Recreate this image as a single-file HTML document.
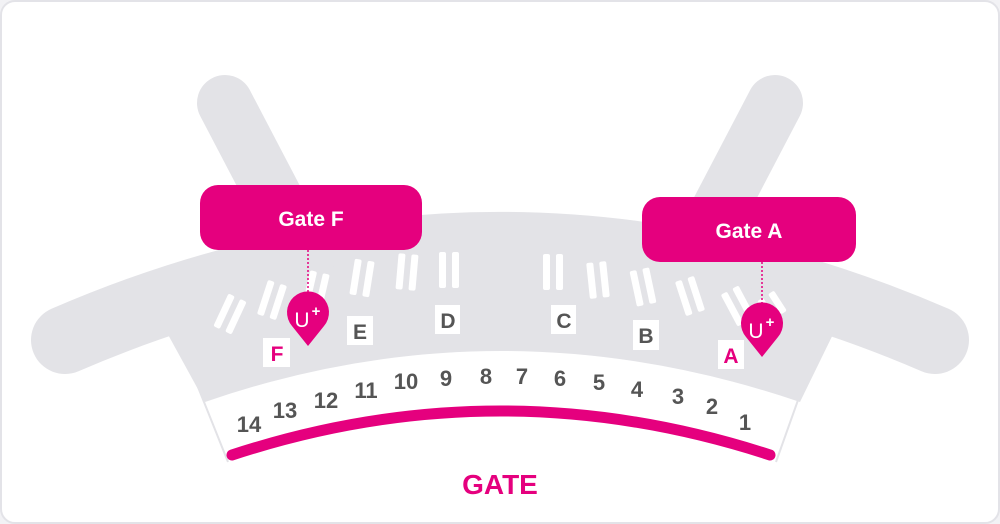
<!DOCTYPE html>
<html><head><meta charset="utf-8"><style>
html,body{margin:0;padding:0;background:#f2f2f5;}
svg{display:block;}
text{font-family:"Liberation Sans",sans-serif;font-weight:bold;}
</style></head><body>
<svg width="1000" height="524" viewBox="0 0 1000 524" xmlns="http://www.w3.org/2000/svg">
<rect x="1" y="1" width="998" height="522" rx="14" fill="#fff" stroke="#e3e3e8" stroke-width="2"/>
<g stroke="#e3e3e7" stroke-linecap="round" fill="none">
<line x1="225" y1="103" x2="315" y2="275" stroke-width="56"/>
<line x1="775" y1="103" x2="685" y2="275" stroke-width="56"/>
<path d="M65,340 Q500,152 935,340" stroke-width="68"/>
</g>
<!-- outer white trapezoid -->
<path d="M192,372 L228,462 Q500,372 776,462 L808,372 Z" fill="#fff"/>
<path d="M192,372 L228,462 M776,462 L808,372" stroke="#e3e3e7" stroke-width="2" fill="none"/>
<!-- gray bowl -->
<path d="M160,320 L205,402 Q500,300 800,402 L840,320 Q500,180 160,320 Z" fill="#e3e3e7"/>
<path d="M232,455 Q500,367 770,455" stroke="#e5007e" stroke-width="11" fill="none" stroke-linecap="round"/>
<!-- stands -->
<g fill="#fff">
<g transform="translate(230,314) rotate(25)"><rect x="-10" y="-18" width="7" height="36" rx="2"/><rect x="3" y="-18" width="7" height="36" rx="2"/></g>
<g transform="translate(272,300) rotate(18)"><rect x="-10" y="-18" width="7" height="36" rx="2"/><rect x="3" y="-18" width="7" height="36" rx="2"/></g>
<g transform="translate(316,290) rotate(13)"><rect x="-10" y="-18" width="7" height="36" rx="2"/><rect x="3" y="-18" width="7" height="36" rx="2"/></g>
<g transform="translate(362,278) rotate(9)"><rect x="-10" y="-18" width="7" height="36" rx="2"/><rect x="3" y="-18" width="7" height="36" rx="2"/></g>
<g transform="translate(407,272) rotate(5)"><rect x="-10" y="-18" width="7" height="36" rx="2"/><rect x="3" y="-18" width="7" height="36" rx="2"/></g>
<g transform="translate(449,270) rotate(0)"><rect x="-10" y="-18" width="7" height="36" rx="2"/><rect x="3" y="-18" width="7" height="36" rx="2"/></g>
<g transform="translate(553,272) rotate(0)"><rect x="-10" y="-18" width="7" height="36" rx="2"/><rect x="3" y="-18" width="7" height="36" rx="2"/></g>
<g transform="translate(598,280) rotate(-6)"><rect x="-10" y="-18" width="7" height="36" rx="2"/><rect x="3" y="-18" width="7" height="36" rx="2"/></g>
<g transform="translate(643,287) rotate(-12)"><rect x="-10" y="-18" width="7" height="36" rx="2"/><rect x="3" y="-18" width="7" height="36" rx="2"/></g>
<g transform="translate(690,296) rotate(-18)"><rect x="-10" y="-18" width="7" height="36" rx="2"/><rect x="3" y="-18" width="7" height="36" rx="2"/></g>
<g transform="translate(738,306) rotate(-28)"><rect x="-10" y="-18" width="7" height="36" rx="2"/><rect x="3" y="-18" width="7" height="36" rx="2"/></g>
<g transform="translate(772,306) rotate(-33)"><rect x="-10" y="-12" width="7" height="24" rx="2"/><rect x="3" y="-12" width="7" height="24" rx="2"/></g>
</g>
<!-- letter boxes -->
<g fill="#fff">
<rect x="263" y="338" width="27" height="29"/><rect x="347" y="316" width="26" height="29"/>
<rect x="435" y="305" width="25" height="29"/><rect x="551" y="305" width="25" height="29"/>
<rect x="633" y="320" width="26" height="30"/><rect x="718" y="340" width="26" height="29"/>
</g>
<g font-size="21" text-anchor="middle" fill="#555">
<text x="277" y="361" fill="#e5007e">F</text>
<text x="360" y="339">E</text>
<text x="448" y="328">D</text>
<text x="564" y="328">C</text>
<text x="646" y="343">B</text>
<text x="731" y="363" fill="#e5007e">A</text>
</g>
<!-- numbers -->
<g font-size="22" text-anchor="middle" fill="#555">
<text x="249" y="432">14</text><text x="285" y="418">13</text><text x="326" y="408">12</text>
<text x="366" y="398">11</text><text x="406" y="389">10</text><text x="446" y="386">9</text>
<text x="486" y="384">8</text><text x="522" y="384">7</text><text x="560" y="386">6</text>
<text x="599" y="390">5</text><text x="637" y="397">4</text><text x="678" y="404">3</text>
<text x="712" y="414">2</text><text x="745" y="430">1</text>
</g>
<text x="500" y="494" font-size="28" text-anchor="middle" fill="#e5007e">GATE</text>
<!-- gate labels -->
<rect x="200" y="185" width="222" height="65" rx="18" fill="#e5007e"/>
<text x="311" y="226" font-size="21" text-anchor="middle" fill="#fff">Gate F</text>
<rect x="642" y="197" width="214" height="65" rx="18" fill="#e5007e"/>
<text x="749" y="238" font-size="21" text-anchor="middle" fill="#fff">Gate A</text>
<line x1="308" y1="250" x2="308" y2="298" stroke="#e5007e" stroke-width="1.5" stroke-dasharray="2,2"/>
<line x1="762" y1="262" x2="762" y2="308" stroke="#e5007e" stroke-width="1.5" stroke-dasharray="2,2"/>
<!-- pins -->
<g fill="#e5007e">
<path d="M308,346 L292,326 A21,21 0 1 1 324,326 Z"/>
<path d="M762,357 L746,337 A21,21 0 1 1 778,337 Z"/>
</g>
<g fill="#fff">
<text x="302" y="327" font-size="21" text-anchor="middle" style="font-weight:normal">U</text>
<text x="316" y="316" font-size="15" text-anchor="middle">+</text>
<text x="756" y="338" font-size="21" text-anchor="middle" style="font-weight:normal">U</text>
<text x="770" y="327" font-size="15" text-anchor="middle">+</text>
</g>
</svg>
</body></html>
